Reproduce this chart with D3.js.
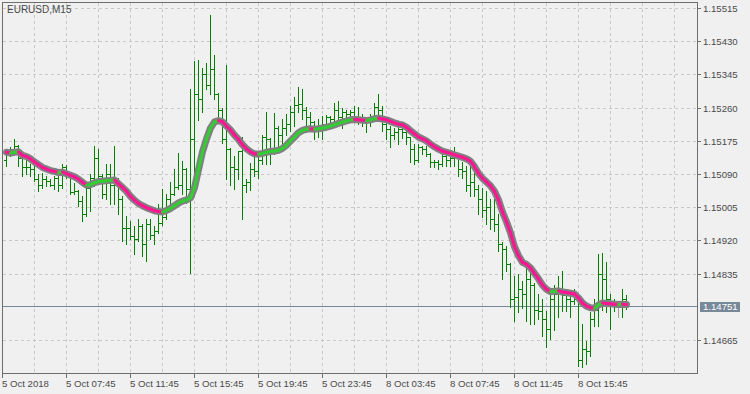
<!DOCTYPE html>
<html>
<head>
<meta charset="utf-8">
<script src="https://cdn.jsdelivr.net/npm/d3@7"></script>
<style>
  html, body { margin: 0; padding: 0; background: #f0f0f0; }
  svg { display: block; font-family: "Liberation Sans", Arial, sans-serif; }
</style>
</head>
<body>
<div id="chart"></div>
<script>
const symbol = "EURUSD,M15";
const timeLabels = ["5 Oct 2018", "5 Oct 07:45", "5 Oct 11:45", "5 Oct 15:45", "5 Oct 19:45",
    "5 Oct 23:45", "8 Oct 03:45", "8 Oct 07:45", "8 Oct 11:45", "8 Oct 15:45"];
const timeLabelBars = [-1, 15, 31, 47, 63, 79, 95, 111, 127, 143];
const priceTicks = [1.15515, 1.15430, 1.15345, 1.15260, 1.15175, 1.15090, 1.15005, 1.14920, 1.14835, 1.14665];
const bid = 1.14751;

// M15 bars, 5 Oct 04:00 onwards
const open = [
    1.15127, 1.15145, 1.15153, 1.15161, 1.15132, 1.15107, 1.15109, 1.15102, 1.15076, 1.15061,
    1.15076, 1.15071, 1.15063, 1.15081, 1.15061, 1.15109, 1.15089, 1.15043, 1.15046, 1.15020,
    1.14987, 1.15053, 1.15081, 1.15132, 1.15086, 1.15038, 1.15089, 1.15063, 1.15076, 1.15025,
    1.14951, 1.14953, 1.14930, 1.14923, 1.14958, 1.14910, 1.14961, 1.14933, 1.14943, 1.14964,
    1.14979, 1.15025, 1.15038, 1.15056, 1.15063, 1.15102, 1.15051, 1.15179, 1.15294, 1.15281,
    1.15345, 1.15319, 1.15358, 1.15294, 1.15255, 1.15179, 1.15153, 1.15109, 1.15102, 1.15148,
    1.15063, 1.15069, 1.15102, 1.15097, 1.15127, 1.15186, 1.15179, 1.15148, 1.15209, 1.15191,
    1.15209, 1.15217, 1.15250, 1.15266, 1.15268, 1.15255, 1.15235, 1.15222, 1.15204, 1.15209,
    1.15217, 1.15235, 1.15230, 1.15255, 1.15235, 1.15250, 1.15243, 1.15250, 1.15235, 1.15230,
    1.15225, 1.15230, 1.15235, 1.15261, 1.15255, 1.15217, 1.15204, 1.15191, 1.15197, 1.15204,
    1.15197, 1.15184, 1.15153, 1.15127, 1.15158, 1.15153, 1.15140, 1.15122, 1.15120, 1.15115,
    1.15135, 1.15127, 1.15132, 1.15140, 1.15102, 1.15097, 1.15063, 1.15069, 1.15051, 1.15025,
    1.14999, 1.15005, 1.14974, 1.14961, 1.14910, 1.14897, 1.14859, 1.14769, 1.14774, 1.14795,
    1.14782, 1.14820, 1.14807, 1.14743, 1.14738, 1.14718, 1.14692, 1.14769, 1.14782, 1.14795,
    1.14779, 1.14769, 1.14764, 1.14769, 1.14615, 1.14641, 1.14636, 1.14718, 1.14743, 1.14833,
    1.14820, 1.14769, 1.14756, 1.14759, 1.14759, 1.14769
];
const high = [
    1.15153, 1.15159, 1.15180, 1.15163, 1.15136, 1.15127, 1.15115, 1.15116, 1.15089, 1.15093,
    1.15085, 1.15076, 1.15085, 1.15093, 1.15116, 1.15112, 1.15093, 1.15068, 1.15050, 1.15033,
    1.15063, 1.15089, 1.15161, 1.15153, 1.15090, 1.15115, 1.15115, 1.15161, 1.15081, 1.15033,
    1.14982, 1.14969, 1.14957, 1.14974, 1.14961, 1.14976, 1.14974, 1.14957, 1.15012, 1.15052,
    1.15038, 1.15069, 1.15102, 1.15143, 1.15123, 1.15106, 1.15308, 1.15379, 1.15381, 1.15362,
    1.15375, 1.15496, 1.15394, 1.15298, 1.15260, 1.15370, 1.15157, 1.15135, 1.15150, 1.15186,
    1.15076, 1.15117, 1.15140, 1.15140, 1.15191, 1.15250, 1.15182, 1.15245, 1.15212, 1.15230,
    1.15243, 1.15263, 1.15286, 1.15312, 1.15307, 1.15261, 1.15250, 1.15226, 1.15230, 1.15238,
    1.15240, 1.15238, 1.15273, 1.15276, 1.15258, 1.15255, 1.15255, 1.15263, 1.15261, 1.15243,
    1.15235, 1.15243, 1.15271, 1.15294, 1.15263, 1.15222, 1.15212, 1.15209, 1.15222, 1.15212,
    1.15212, 1.15186, 1.15166, 1.15166, 1.15161, 1.15161, 1.15144, 1.15127, 1.15127, 1.15145,
    1.15145, 1.15148, 1.15158, 1.15143, 1.15120, 1.15110, 1.15133, 1.15115, 1.15063, 1.15053,
    1.15046, 1.15025, 1.15033, 1.14987, 1.14917, 1.14905, 1.14862, 1.14828, 1.14833, 1.14815,
    1.14866, 1.14854, 1.14810, 1.14782, 1.14769, 1.14738, 1.14782, 1.14807, 1.14830, 1.14841,
    1.14782, 1.14779, 1.14795, 1.14772, 1.14705, 1.14662, 1.14736, 1.14769, 1.14884, 1.14889,
    1.14864, 1.14782, 1.14769, 1.14764, 1.14795, 1.14779
];
const low = [
    1.15110, 1.15136, 1.15140, 1.15110, 1.15085, 1.15089, 1.15085, 1.15072, 1.15046, 1.15055,
    1.15059, 1.15059, 1.15051, 1.15046, 1.15055, 1.15081, 1.15038, 1.15038, 1.15008, 1.14969,
    1.14982, 1.14995, 1.15059, 1.15072, 1.15029, 1.15025, 1.15012, 1.15012, 1.14987, 1.14918,
    1.14910, 1.14923, 1.14884, 1.14918, 1.14880, 1.14867, 1.14923, 1.14910, 1.14938, 1.14960,
    1.14975, 1.15008, 1.15035, 1.15051, 1.15038, 1.15017, 1.14837, 1.15033, 1.15228, 1.15249,
    1.15307, 1.15294, 1.15281, 1.15238, 1.15170, 1.15076, 1.15063, 1.15051, 1.15076, 1.14974,
    1.15043, 1.15048, 1.15084, 1.15081, 1.15115, 1.15115, 1.15115, 1.15140, 1.15158, 1.15166,
    1.15191, 1.15199, 1.15214, 1.15248, 1.15232, 1.15197, 1.15209, 1.15179, 1.15186, 1.15179,
    1.15212, 1.15222, 1.15217, 1.15225, 1.15209, 1.15227, 1.15230, 1.15225, 1.15217, 1.15212,
    1.15197, 1.15212, 1.15225, 1.15238, 1.15199, 1.15179, 1.15158, 1.15179, 1.15166, 1.15181,
    1.15166, 1.15120, 1.15115, 1.15122, 1.15140, 1.15135, 1.15109, 1.15107, 1.15102, 1.15110,
    1.15110, 1.15110, 1.15110, 1.15084, 1.15081, 1.15046, 1.15033, 1.15033, 1.14987, 1.14979,
    1.14961, 1.14948, 1.14943, 1.14892, 1.14820, 1.14841, 1.14749, 1.14713, 1.14736, 1.14746,
    1.14713, 1.14705, 1.14705, 1.14718, 1.14674, 1.14646, 1.14667, 1.14690, 1.14723, 1.14738,
    1.14738, 1.14723, 1.14756, 1.14598, 1.14595, 1.14603, 1.14623, 1.14700, 1.14700, 1.14741,
    1.14736, 1.14692, 1.14738, 1.14723, 1.14723, 1.14745
];
const close = [
    1.15145, 1.15153, 1.15161, 1.15132, 1.15107, 1.15109, 1.15102, 1.15076, 1.15061, 1.15076,
    1.15071, 1.15063, 1.15081, 1.15061, 1.15109, 1.15089, 1.15043, 1.15046, 1.15020, 1.14987,
    1.15053, 1.15081, 1.15132, 1.15086, 1.15038, 1.15089, 1.15063, 1.15076, 1.15025, 1.14951,
    1.14953, 1.14930, 1.14923, 1.14958, 1.14910, 1.14961, 1.14933, 1.14943, 1.14964, 1.14979,
    1.15025, 1.15038, 1.15056, 1.15063, 1.15102, 1.15051, 1.15179, 1.15294, 1.15281, 1.15345,
    1.15319, 1.15358, 1.15294, 1.15255, 1.15179, 1.15153, 1.15109, 1.15102, 1.15148, 1.15063,
    1.15069, 1.15102, 1.15097, 1.15127, 1.15186, 1.15179, 1.15148, 1.15209, 1.15191, 1.15209,
    1.15217, 1.15250, 1.15266, 1.15268, 1.15255, 1.15235, 1.15222, 1.15204, 1.15209, 1.15217,
    1.15235, 1.15230, 1.15255, 1.15235, 1.15250, 1.15243, 1.15250, 1.15235, 1.15230, 1.15225,
    1.15230, 1.15235, 1.15261, 1.15255, 1.15217, 1.15204, 1.15191, 1.15197, 1.15204, 1.15197,
    1.15184, 1.15153, 1.15127, 1.15158, 1.15153, 1.15140, 1.15122, 1.15120, 1.15115, 1.15135,
    1.15127, 1.15132, 1.15140, 1.15102, 1.15097, 1.15063, 1.15069, 1.15051, 1.15025, 1.14999,
    1.15005, 1.14974, 1.14961, 1.14910, 1.14897, 1.14859, 1.14769, 1.14774, 1.14795, 1.14782,
    1.14820, 1.14807, 1.14743, 1.14738, 1.14718, 1.14692, 1.14769, 1.14782, 1.14795, 1.14779,
    1.14769, 1.14764, 1.14769, 1.14615, 1.14641, 1.14636, 1.14718, 1.14743, 1.14833, 1.14820,
    1.14769, 1.14756, 1.14759, 1.14759, 1.14769, 1.14751
];
// moving average line
const ma = [
    1.15147, 1.15145, 1.15147, 1.15148, 1.15139, 1.15136, 1.15130, 1.15122, 1.15115, 1.15108,
    1.15104, 1.15100, 1.15098, 1.15095, 1.15096, 1.15092, 1.15088, 1.15084, 1.15078, 1.15070,
    1.15063, 1.15064, 1.15069, 1.15072, 1.15073, 1.15074, 1.15075, 1.15076, 1.15066, 1.15057,
    1.15047, 1.15034, 1.15024, 1.15016, 1.15010, 1.15005, 1.15001, 1.14997, 1.14995, 1.14994,
    1.14998, 1.15003, 1.15010, 1.15017, 1.15022, 1.15025, 1.15030, 1.15056, 1.15102, 1.15148,
    1.15181, 1.15209, 1.15225, 1.15228, 1.15225, 1.15214, 1.15204, 1.15191, 1.15180, 1.15166,
    1.15156, 1.15148, 1.15143, 1.15142, 1.15144, 1.15147, 1.15149, 1.15150, 1.15152, 1.15157,
    1.15165, 1.15176, 1.15186, 1.15197, 1.15203, 1.15206, 1.15207, 1.15206, 1.15207, 1.15209,
    1.15211, 1.15214, 1.15217, 1.15221, 1.15224, 1.15227, 1.15230, 1.15231, 1.15230, 1.15229,
    1.15228, 1.15230, 1.15233, 1.15234, 1.15232, 1.15230, 1.15226, 1.15222, 1.15219, 1.15217,
    1.15211, 1.15202, 1.15194, 1.15186, 1.15181, 1.15176, 1.15168, 1.15161, 1.15155, 1.15150,
    1.15147, 1.15144, 1.15140, 1.15137, 1.15134, 1.15130, 1.15124, 1.15110, 1.15093, 1.15080,
    1.15071, 1.15061, 1.15047, 1.15025, 1.14994, 1.14969, 1.14941, 1.14905, 1.14882, 1.14865,
    1.14860, 1.14851, 1.14837, 1.14823, 1.14807, 1.14796, 1.14790, 1.14791, 1.14792, 1.14789,
    1.14788, 1.14786, 1.14784, 1.14774, 1.14761, 1.14753, 1.14749, 1.14748, 1.14756, 1.14761,
    1.14760, 1.14759, 1.14758, 1.14757, 1.14758, 1.14757
];

const width = 750, height = 394;
const plot = { left: 2, top: 2, right: 697, bottom: 373 };

const bars = close.map((c, i) => ({ i, o: open[i], h: high[i], l: low[i], c, m: ma[i] }));

// one bar every 4 px, bar index -1 sits on the left border
const xScale = d3.scaleLinear().domain([-1, 173]).range([2, 698]);
const yScale = d3.scaleLinear().domain([1.14665, 1.15515]).range([340.5, 8.5]);
const py = v => Math.round(yScale(v) - 0.5);

const svg = d3.select('#chart').append('svg').attr('width', width).attr('height', height);
svg.append('rect').attr('width', width).attr('height', height).attr('fill', '#f0f0f0');

const chart = svg.append('g');
chart.append('clipPath').attr('id', 'clip')
    .append('rect').attr('x', plot.left + 1).attr('y', plot.top + 1)
    .attr('width', plot.right - plot.left - 1).attr('height', plot.bottom - plot.top - 1);

// grid
const grid = chart.append('g').attr('stroke', '#c8c8c8').attr('stroke-dasharray', '3,3')
    .attr('shape-rendering', 'crispEdges');
grid.selectAll('.hgrid').data(priceTicks).enter().append('line')
    .attr('x1', plot.left + 1).attr('x2', plot.right)
    .attr('y1', d => py(d) + 0.5).attr('y2', d => py(d) + 0.5);
grid.selectAll('.vgrid').data(d3.range(7, 168, 8)).enter().append('line')
    .attr('y1', plot.top + 1).attr('y2', plot.bottom)
    .attr('x1', d => xScale(d) + 0.5).attr('x2', d => xScale(d) + 0.5);

// bid line
chart.append('line').attr('x1', plot.left).attr('x2', plot.right)
    .attr('y1', py(bid) + 0.5).attr('y2', py(bid) + 0.5)
    .attr('stroke', '#778899').attr('shape-rendering', 'crispEdges');

// OHLC bars
const barG = chart.append('g').attr('clip-path', 'url(#clip)').attr('shape-rendering', 'crispEdges');
const barColor = d => d.o === d.c ? '#a0a0a0' : '#008000';
barG.selectAll('.bar').data(bars).enter().append('rect')
    .attr('x', d => xScale(d.i)).attr('y', d => py(d.h))
    .attr('width', 1).attr('height', d => py(d.l) - py(d.h) + 1)
    .attr('fill', barColor);
barG.selectAll('.open').data(bars).enter().append('rect')
    .attr('x', d => xScale(d.i) - 2).attr('y', d => py(d.o))
    .attr('width', 2).attr('height', 1).attr('fill', barColor);
barG.selectAll('.close').data(bars).enter().append('rect')
    .attr('x', d => xScale(d.i) + 1).attr('y', d => py(d.c))
    .attr('width', 2).attr('height', 1).attr('fill', barColor);

// moving average: gray halo + slope coloured line
const maLine = d3.line().x(d => xScale(d.i) + 0.5).y(d => yScale(d.m));
const maG = chart.append('g').attr('clip-path', 'url(#clip)');
maG.append('path').datum(bars).attr('d', maLine)
    .attr('fill', 'none').attr('stroke', '#808080').attr('stroke-width', 7)
    .attr('stroke-linejoin', 'round').attr('stroke-linecap', 'round');
let up = false;
const segs = [];
for (let i = 1; i < bars.length; i++) {
    if (bars[i].m > bars[i - 1].m) up = true;
    else if (bars[i].m < bars[i - 1].m) up = false;
    segs.push({ a: bars[i - 1], b: bars[i], up });
}
maG.selectAll('.seg').data(segs).enter().append('line')
    .attr('x1', d => xScale(d.a.i) + 0.5).attr('y1', d => yScale(d.a.m))
    .attr('x2', d => xScale(d.b.i) + 0.5).attr('y2', d => yScale(d.b.m))
    .attr('stroke', d => d.up ? '#32cd32' : '#ff1493').attr('stroke-width', 3)
    .attr('stroke-linecap', 'round');

// frame
chart.append('rect').attr('x', plot.left + 0.5).attr('y', plot.top + 0.5)
    .attr('width', plot.right - plot.left).attr('height', plot.bottom - plot.top)
    .attr('fill', 'none').attr('stroke', '#6e6e6e').attr('shape-rendering', 'crispEdges');

// price axis on the right
const yAxisG = svg.append('g').attr('font-size', 9.6).attr('fill', '#4a4a4a');
yAxisG.selectAll('.ytick').data(priceTicks).enter().append('rect')
    .attr('x', plot.right + 1).attr('y', d => py(d)).attr('width', 3).attr('height', 1).attr('fill', '#6e6e6e');
yAxisG.selectAll('.ylabel').data(priceTicks).enter().append('text')
    .attr('x', 703).attr('y', d => py(d) + 4).text(d => d.toFixed(5));

// bid label
svg.append('rect').attr('x', 700).attr('y', py(bid) - 4).attr('width', 40).attr('height', 10).attr('fill', '#778899');
svg.append('text').attr('x', 703).attr('y', py(bid) + 4).attr('font-size', 9.6).attr('fill', '#ffffff')
    .text(bid.toFixed(5));

// time axis
const xAxisG = svg.append('g').attr('font-size', 9.6).attr('fill', '#4a4a4a');
xAxisG.selectAll('.xtick').data(timeLabelBars).enter().append('rect')
    .attr('x', d => xScale(d)).attr('y', plot.bottom + 1).attr('width', 1).attr('height', 4).attr('fill', '#6e6e6e');
xAxisG.selectAll('.xlabel').data(timeLabels).enter().append('text')
    .attr('x', (d, i) => xScale(timeLabelBars[i])).attr('y', 387).text(d => d);

// symbol caption
svg.append('text').attr('x', 7).attr('y', 13).attr('font-size', 10).attr('fill', '#4a4a4a').text(symbol);
</script>
</body>
</html>
